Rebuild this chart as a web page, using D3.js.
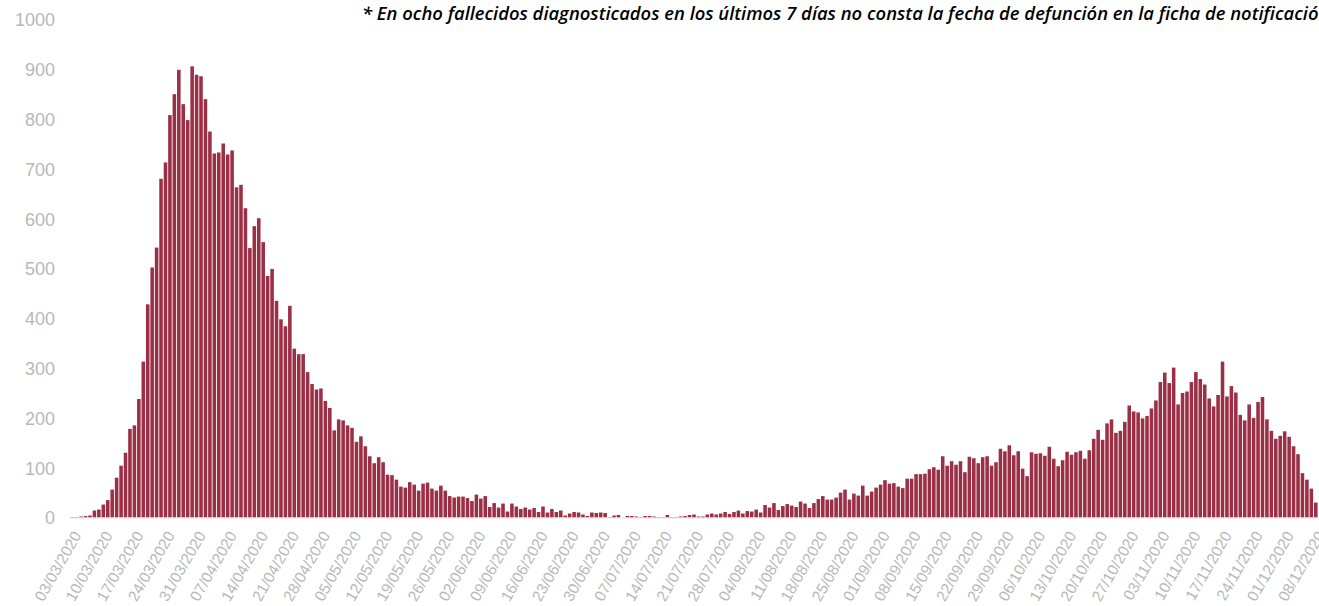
<!DOCTYPE html>
<html>
<head>
<meta charset="utf-8">
<script src="https://cdn.jsdelivr.net/npm/d3@7"></script>
<style>
  html, body { margin: 0; padding: 0; background: #fff; overflow: hidden; }
  #chart { width: 1319px; height: 606px; }
</style>
</head>
<body>
<div id="chart"></div>
<script>
// daily deaths by date of death, 03/03/2020 - 08/12/2020
const note = "* En ocho fallecidos diagnosticados en los últimos 7 días no consta la fecha de defunción en la ficha de notificación";

const deaths = [
  1, 1, 2, 3, 4, 14, 16, 26, 35, 56, 80, 104, 130, 178, 185, 238, 313, 428, 502, 542, 680, 713, 808,
  850, 899, 830, 798, 906, 889, 886, 840, 775, 731, 733, 751, 729, 737, 663, 668, 621, 541, 585, 601, 553, 485, 499, 435,
  398, 384, 425, 339, 328, 328, 292, 268, 257, 259, 234, 220, 175, 197, 195, 185, 180, 152, 163, 143, 123, 109, 121,
  111, 86, 85, 76, 62, 60, 71, 66, 54, 68, 70, 58, 54, 64, 54, 43, 40, 42, 42, 39, 33, 46, 38, 43,
  21, 29, 20, 28, 12, 28, 22, 17, 20, 16, 19, 11, 22, 10, 17, 11, 14, 4, 8, 11, 10, 6, 3, 10, 9, 10, 9, 1, 4, 5, 0, 3, 3, 2,
  1, 3, 3, 2, 1, 1, 5, 1, 1, 2, 3, 5, 6, 2, 2, 6, 8, 6, 8, 11, 7, 11, 14, 8, 13, 12, 16, 10, 25, 20, 29, 15, 23, 27,
  24, 21, 32, 28, 19, 29, 37, 43, 36, 36, 40, 50, 56, 36, 48, 44, 64, 44, 52, 60, 66, 75, 68, 69, 62, 59,
  78, 78, 87, 87, 88, 97, 101, 96, 123, 104, 113, 106, 113, 91, 122, 119, 109, 121, 123, 104, 111, 138, 133, 145, 125, 133,
  98, 83, 131, 128, 129, 124, 142, 118, 103, 115, 132, 126, 131, 134, 118, 135, 158, 176, 156, 189, 197, 170, 174, 192, 225, 213,
  211, 199, 204, 219, 235, 272, 291, 270, 301, 227, 250, 253, 272, 292, 278, 267, 239, 223, 246, 313, 243, 264, 251, 206, 195,
  227, 200, 232, 242, 197, 174, 158, 164, 173, 162, 143, 127, 89, 76, 58, 30
];

const tickLabels = [
  "03/03/2020", "10/03/2020", "17/03/2020", "24/03/2020", "31/03/2020", "07/04/2020", "14/04/2020",
  "21/04/2020", "28/04/2020", "05/05/2020", "12/05/2020", "19/05/2020", "26/05/2020", "02/06/2020",
  "09/06/2020", "16/06/2020", "23/06/2020", "30/06/2020", "07/07/2020", "14/07/2020", "21/07/2020",
  "28/07/2020", "04/08/2020", "11/08/2020", "18/08/2020", "25/08/2020", "01/09/2020", "08/09/2020",
  "15/09/2020", "22/09/2020", "29/09/2020", "06/10/2020", "13/10/2020", "20/10/2020", "27/10/2020",
  "03/11/2020", "10/11/2020", "17/11/2020", "24/11/2020", "01/12/2020", "08/12/2020"
];

const yTicks = [0, 100, 200, 300, 400, 500, 600, 700, 800, 900, 1000];

/* categories: one per day */
const fmt = d3.timeFormat("%d/%m/%Y");
const days = d3.timeDay.range(new Date(2020, 2, 3), new Date(2020, 11, 9)).map(fmt);

/* chart sizes */
const width = 1319;
const height = 606;
const plot = {left: 70, right: 1318, top: 19.5, bottom: 517.5};
const grey = "#b8b8b8";

/* 1: canvas */
const svg = d3.select("#chart")
              .append("svg")
              .attr("width", width)
              .attr("height", height);

/* 2: scales */
const x = d3.scaleBand()
            .domain(days)
            .range([plot.left, plot.right])
            .paddingInner(0.2)
            .paddingOuter(0.1);
const y = d3.scaleLinear()
            .domain([0, 1000])
            .range([plot.bottom, plot.top]);

/* 3: bars */
svg.append("g")
   .selectAll("rect")
   .data(deaths)
   .enter()
   .append("rect")
   .attr("x", (d, i) => x(days[i]))
   .attr("y", d => y(d))
   .attr("width", x.bandwidth())
   .attr("height", d => y(0) - y(d))
   .attr("fill", "#9b2f46");

/* 4: axes */
const yAxis = d3.axisLeft(y)
                .tickValues(yTicks)
                .tickFormat(d3.format("d"))
                .tickSize(0)
                .tickPadding(0);
svg.append("g")
   .attr("transform", "translate(55,0)")
   .call(yAxis)
   .call(g => g.select(".domain").remove())
   .selectAll("text")
   .style("font", "18px 'Liberation Sans', sans-serif")
   .attr("fill", grey)
   .attr("dy", "0.35em");

svg.append("line")
   .attr("x1", plot.left)
   .attr("x2", plot.right)
   .attr("y1", y(0) + 0.5)
   .attr("y2", y(0) + 0.5)
   .attr("stroke", "#e3e3e3");

const xAxis = d3.axisBottom(x)
                .tickValues(tickLabels)
                .tickSize(0)
                .tickPadding(0);
svg.append("g")
   .attr("transform", "translate(0," + (plot.bottom + 15) + ")")
   .call(xAxis)
   .call(g => g.select(".domain").remove())
   .selectAll("text")
   .style("font", "15.5px 'Liberation Sans', sans-serif")
   .attr("fill", grey)
   .attr("text-anchor", "end")
   .attr("x", 0)
   .attr("y", 0)
   .attr("dy", "0.35em")
   .attr("transform", "translate(5,0) rotate(-60)");

/* 5: note, sized so it runs off the right edge as in the source */
const noteText = svg.append("text")
   .attr("x", 362)
   .attr("y", 20)
   .style("font", "italic 600 16px 'Open Sans', sans-serif")
   .attr("fill", "#000")
   .text(note);
const len = noteText.node().getComputedTextLength();
noteText.style("font-size", (16 * 968 / len) + "px");
</script>
</body>
</html>
